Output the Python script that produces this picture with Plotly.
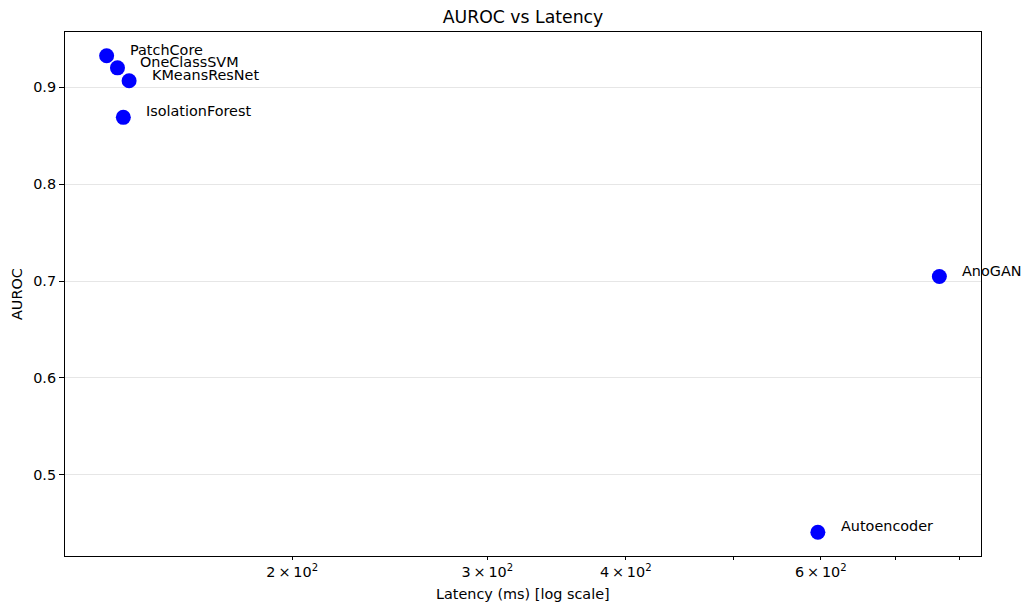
import numpy as np
import plotly.graph_objects as go

# Anomaly-detection methods: inference latency (ms) and AUROC
models = ["PatchCore", "OneClassSVM", "KMeansResNet", "IsolationForest", "AnoGAN", "Autoencoder"]
latency_ms = [136.0, 139.1, 142.5, 140.8, 767.6, 596.3]
auroc = [0.9326, 0.9202, 0.9068, 0.8691, 0.7047, 0.4408]

x_tick_vals = [200, 300, 400, 500, 600, 700, 800]
x_tick_text = ["2\u2009×\u200910<sup>2</sup>", "3\u2009×\u200910<sup>2</sup>",
               "4\u2009×\u200910<sup>2</sup>", "",
               "6\u2009×\u200910<sup>2</sup>", "", ""]
y_tick_vals = [0.5, 0.6, 0.7, 0.8, 0.9]

FONT = "DejaVu Sans, Verdana, sans-serif"
FS = 14.4

# 5% padding around the data on both axes (x padded in log space)
lx = np.log10(latency_ms)
xpad = 0.05 * (lx.max() - lx.min())
x_range = [lx.min() - xpad, lx.max() + xpad]
ypad = 0.05 * (max(auroc) - min(auroc))
y_range = [min(auroc) - ypad, max(auroc) + ypad]

fig = go.Figure()
fig.add_trace(go.Scatter(
    x=latency_ms, y=auroc, mode="markers",
    marker=dict(color="#0000ff", size=15, line=dict(width=0)),
    showlegend=False, hoverinfo="text", text=models,
))

# Method names next to each point
for name, lx_, ly_ in zip(models, latency_ms, auroc):
    fig.add_annotation(
        x=np.log10(lx_), y=ly_, xref="x", yref="y", text=name, showarrow=False,
        xanchor="left", yanchor="middle", xshift=21, yshift=6,
        font=dict(family=FONT, size=FS, color="#000000"),
    )

# Axis labels
fig.add_annotation(
    x=0.5, y=0, xref="paper", yref="paper", text="Latency (ms) [log scale]",
    showarrow=False, xanchor="center", yanchor="middle", yshift=-38,
    font=dict(family=FONT, size=FS, color="#000000"),
)
fig.add_annotation(
    x=0, y=0.5, xref="paper", yref="paper", text="AUROC", textangle=-90,
    showarrow=False, xanchor="center", yanchor="middle", xshift=-48,
    font=dict(family=FONT, size=FS, color="#000000"),
)

fig.update_layout(
    width=1021, height=608,
    margin=dict(l=65, r=40, t=32, b=52),
    paper_bgcolor="white", plot_bgcolor="white",
    font=dict(family=FONT, size=FS, color="#000000"),
    title=dict(text="AUROC vs Latency", x=0.5, xref="paper", xanchor="center",
               y=1 - 16.5 / 608, yref="container", yanchor="middle",
               font=dict(family=FONT, size=17.3, color="#000000")),
    xaxis=dict(
        type="log", range=x_range,
        tickmode="array", tickvals=x_tick_vals, ticktext=x_tick_text,
        ticks="outside", ticklen=3, tickwidth=1, tickcolor="#000000",
        showgrid=False, zeroline=False,
        showline=True, linecolor="#000000", linewidth=1, mirror=True,
        tickfont=dict(family=FONT, size=FS, color="#000000"),
    ),
    yaxis=dict(
        range=y_range,
        tickmode="array", tickvals=y_tick_vals, ticktext=[f"{v:.1f}" for v in y_tick_vals],
        ticks="outside", ticklen=5, tickwidth=1, tickcolor="#000000",
        showgrid=True, gridcolor="#e6e6e6", gridwidth=1, zeroline=False,
        showline=True, linecolor="#000000", linewidth=1, mirror=True,
        tickfont=dict(family=FONT, size=FS, color="#000000"),
    ),
)

fig.write_html("out.html")
